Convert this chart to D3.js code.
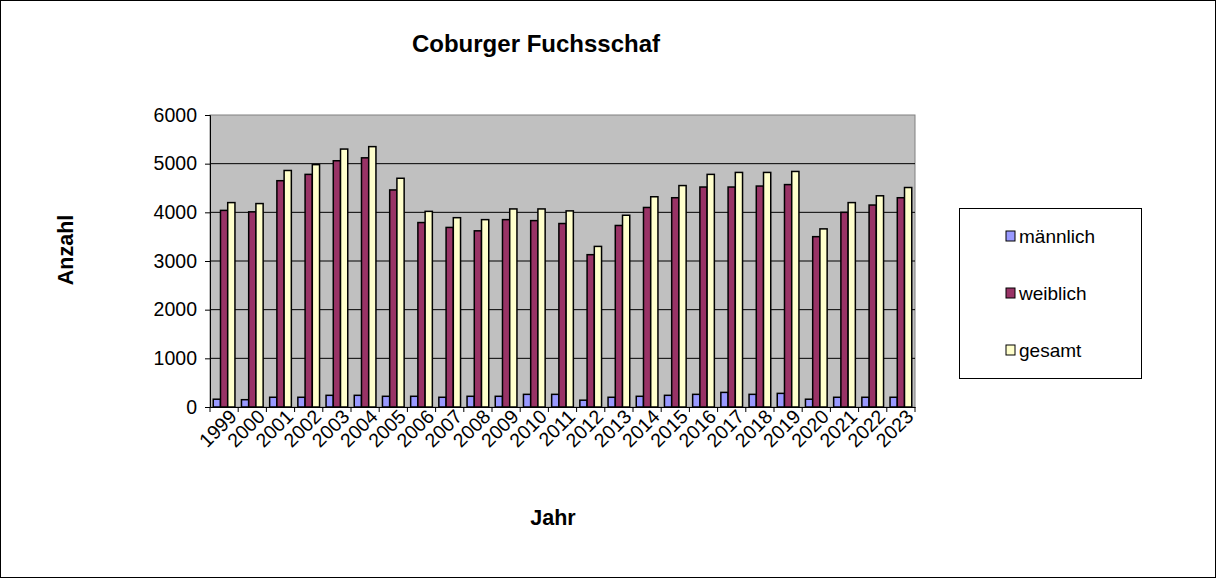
<!DOCTYPE html>
<html><head><meta charset="utf-8">
<script src="https://cdn.jsdelivr.net/npm/d3@7"></script>
<style>body{margin:0;background:#fff}svg{font-family:"Liberation Sans",Arial,sans-serif}</style>
</head><body><svg id="c" width="1216" height="578"></svg>
<script>
const years=["1999","2000","2001","2002","2003","2004","2005","2006","2007","2008","2009","2010","2011","2012","2013","2014","2015","2016","2017","2018","2019","2020","2021","2022","2023"];
const maennlich=[160,150,200,200,240,240,220,220,200,220,220,260,260,140,200,220,240,260,300,260,280,160,200,200,200];
const weiblich=[4040,4010,4650,4780,5060,5120,4460,3790,3690,3620,3850,3830,3770,3130,3730,4100,4300,4520,4520,4540,4570,3500,4000,4150,4300];
const gesamt=[4200,4180,4860,4980,5300,5350,4700,4020,3890,3850,4070,4070,4030,3300,3940,4320,4550,4780,4820,4820,4840,3660,4200,4340,4510];
const seriesNames=["männlich","weiblich","gesamt"];
const colors=["#9999ff","#993366","#ffffcc"];
const yTicks=[0,1000,2000,3000,4000,5000,6000];

const svg=d3.select("#c");
svg.append("rect").attr("x",0.5).attr("y",0.5).attr("width",1215).attr("height",577).attr("fill","#fff").attr("stroke","#000");
const L=210,R=915,T=115,B=407;
const x=d3.scaleBand().domain(years).range([L,R]);
const y=d3.scaleLinear().domain([0,6000]).range([B,T]);
const xs=d3.scaleBand().domain(seriesNames).range([0,x.bandwidth()]).paddingInner(0).paddingOuter(0.45);
svg.append("rect").attr("x",L).attr("y",T).attr("width",R-L).attr("height",B-T).attr("fill","#c0c0c0").attr("stroke","#808080");
svg.append("g").selectAll("line").data(yTicks.slice(1,-1)).join("line")
 .attr("x1",L).attr("x2",R).attr("y1",d=>y(d)).attr("y2",d=>y(d)).attr("stroke","#000");
const data=[maennlich,weiblich,gesamt];
data.forEach((arr,si)=>{
 svg.append("g").selectAll("rect").data(arr).join("rect")
  .attr("x",(d,i)=>x(years[i])+xs(seriesNames[si])).attr("width",xs.bandwidth())
  .attr("y",d=>y(d)).attr("height",d=>B-y(d))
  .attr("fill",colors[si]).attr("stroke","#000").attr("stroke-width",1.5);
});
const ya=svg.append("g").attr("transform",`translate(${L},0)`).call(d3.axisLeft(y).tickValues(yTicks).tickSize(5).tickFormat(d3.format("d")));
ya.selectAll("text").attr("font-size",19.5).attr("fill","#000").attr("dx",-5);
ya.select(".domain").attr("stroke","#000");
const xa=svg.append("g").attr("transform",`translate(0,${B})`).call(d3.axisBottom(x).tickSize(0).tickFormat(d=>d));
xa.select(".domain").attr("stroke","#000");
xa.selectAll(".tick text").attr("font-size",19.5).attr("fill","#000")
 .attr("text-anchor","end").attr("transform","translate(9,6) rotate(-45)").attr("dy","0.35em").attr("dx",0).attr("y",0);
svg.append("g").selectAll("line").data(d3.range(years.length+1)).join("line")
 .attr("x1",i=>L+i*x.step()).attr("x2",i=>L+i*x.step()).attr("y1",B).attr("y2",B+5).attr("stroke","#000");
svg.append("text").attr("x",536).attr("y",52).attr("text-anchor","middle").attr("font-size",24).attr("font-weight","bold").text("Coburger Fuchsschaf");
svg.append("text").attr("x",553).attr("y",525).attr("text-anchor","middle").attr("font-size",21.5).attr("font-weight","bold").text("Jahr");
svg.append("text").attr("transform","translate(73,250) rotate(-90)").attr("text-anchor","middle").attr("font-size",21.5).attr("font-weight","bold").text("Anzahl");
const lg=svg.append("g");
lg.append("rect").attr("x",959.5).attr("y",208.5).attr("width",182).attr("height",170).attr("fill","#fff").attr("stroke","#000");
seriesNames.forEach((n,i)=>{
 const yy=237+i*57;
 lg.append("rect").attr("x",1006).attr("y",yy-6).attr("width",9).attr("height",10).attr("fill",colors[i]).attr("stroke","#000");
 lg.append("text").attr("x",1019).attr("y",yy+6).attr("font-size",19).text(n);
});
</script></body></html>
